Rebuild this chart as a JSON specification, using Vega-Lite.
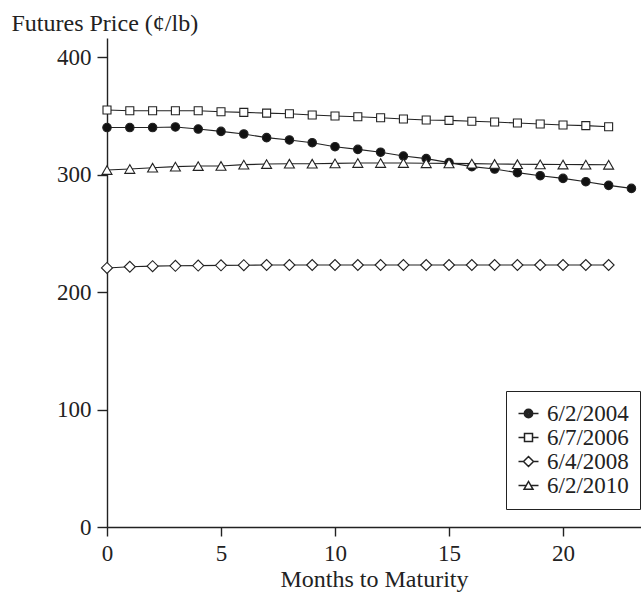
{
  "$schema": "https://vega.github.io/schema/vega-lite/v6.json",
  "autosize": "none",
  "width": 534,
  "height": 489,
  "padding": {"left": 107, "top": 38, "right": 0, "bottom": 66},
  "background": "white",
  "config": {
    "view": {"stroke": null},
    "font": "Liberation Serif",
    "axis": {
      "grid": false,
      "domainColor": "#222",
      "domainWidth": 1.4,
      "tickColor": "#222",
      "tickWidth": 1.4,
      "labelFont": "Liberation Serif",
      "labelFontSize": 23,
      "labelColor": "#222",
      "titleFont": "Liberation Serif",
      "titleFontSize": 24,
      "titleFontWeight": "normal",
      "titleColor": "#222"
    },
    "legend": {
      "labelFont": "Liberation Serif",
      "labelFontSize": 23,
      "labelColor": "#222"
    }
  },
  "data": {
    "values": [
      {"series": "6/2/2004", "month": 0, "price": 340},
      {"series": "6/2/2004", "month": 1, "price": 340},
      {"series": "6/2/2004", "month": 2, "price": 340},
      {"series": "6/2/2004", "month": 3, "price": 340.5},
      {"series": "6/2/2004", "month": 4, "price": 338.7},
      {"series": "6/2/2004", "month": 5, "price": 336.7},
      {"series": "6/2/2004", "month": 6, "price": 334.5},
      {"series": "6/2/2004", "month": 7, "price": 331.4},
      {"series": "6/2/2004", "month": 8, "price": 329.4},
      {"series": "6/2/2004", "month": 9, "price": 327.1},
      {"series": "6/2/2004", "month": 10, "price": 323.7},
      {"series": "6/2/2004", "month": 11, "price": 321.4},
      {"series": "6/2/2004", "month": 12, "price": 319},
      {"series": "6/2/2004", "month": 13, "price": 315.7},
      {"series": "6/2/2004", "month": 14, "price": 313.5},
      {"series": "6/2/2004", "month": 15, "price": 310.1},
      {"series": "6/2/2004", "month": 16, "price": 306.7},
      {"series": "6/2/2004", "month": 17, "price": 304.7},
      {"series": "6/2/2004", "month": 18, "price": 301.6},
      {"series": "6/2/2004", "month": 19, "price": 299},
      {"series": "6/2/2004", "month": 20, "price": 296.7},
      {"series": "6/2/2004", "month": 21, "price": 293.9},
      {"series": "6/2/2004", "month": 22, "price": 290.8},
      {"series": "6/2/2004", "month": 23, "price": 288.2},
      {"series": "6/7/2006", "month": 0, "price": 354.9},
      {"series": "6/7/2006", "month": 1, "price": 354.3},
      {"series": "6/7/2006", "month": 2, "price": 354.3},
      {"series": "6/7/2006", "month": 3, "price": 354.3},
      {"series": "6/7/2006", "month": 4, "price": 354.3},
      {"series": "6/7/2006", "month": 5, "price": 353.4},
      {"series": "6/7/2006", "month": 6, "price": 352.9},
      {"series": "6/7/2006", "month": 7, "price": 352.3},
      {"series": "6/7/2006", "month": 8, "price": 351.7},
      {"series": "6/7/2006", "month": 9, "price": 350.6},
      {"series": "6/7/2006", "month": 10, "price": 349.8},
      {"series": "6/7/2006", "month": 11, "price": 349.2},
      {"series": "6/7/2006", "month": 12, "price": 348.3},
      {"series": "6/7/2006", "month": 13, "price": 347.2},
      {"series": "6/7/2006", "month": 14, "price": 346.4},
      {"series": "6/7/2006", "month": 15, "price": 346.1},
      {"series": "6/7/2006", "month": 16, "price": 345.3},
      {"series": "6/7/2006", "month": 17, "price": 344.7},
      {"series": "6/7/2006", "month": 18, "price": 343.8},
      {"series": "6/7/2006", "month": 19, "price": 343},
      {"series": "6/7/2006", "month": 20, "price": 342.1},
      {"series": "6/7/2006", "month": 21, "price": 341.6},
      {"series": "6/7/2006", "month": 22, "price": 340.7},
      {"series": "6/4/2008", "month": 0, "price": 220.5},
      {"series": "6/4/2008", "month": 1, "price": 221.5},
      {"series": "6/4/2008", "month": 2, "price": 222},
      {"series": "6/4/2008", "month": 3, "price": 222.3},
      {"series": "6/4/2008", "month": 4, "price": 222.5},
      {"series": "6/4/2008", "month": 5, "price": 222.7},
      {"series": "6/4/2008", "month": 6, "price": 222.8},
      {"series": "6/4/2008", "month": 7, "price": 223},
      {"series": "6/4/2008", "month": 8, "price": 223},
      {"series": "6/4/2008", "month": 9, "price": 223},
      {"series": "6/4/2008", "month": 10, "price": 223},
      {"series": "6/4/2008", "month": 11, "price": 223},
      {"series": "6/4/2008", "month": 12, "price": 223},
      {"series": "6/4/2008", "month": 13, "price": 223},
      {"series": "6/4/2008", "month": 14, "price": 223},
      {"series": "6/4/2008", "month": 15, "price": 223},
      {"series": "6/4/2008", "month": 16, "price": 223},
      {"series": "6/4/2008", "month": 17, "price": 223},
      {"series": "6/4/2008", "month": 18, "price": 223},
      {"series": "6/4/2008", "month": 19, "price": 223},
      {"series": "6/4/2008", "month": 20, "price": 223},
      {"series": "6/4/2008", "month": 21, "price": 223},
      {"series": "6/4/2008", "month": 22, "price": 223},
      {"series": "6/2/2010", "month": 0, "price": 303.8},
      {"series": "6/2/2010", "month": 1, "price": 304.7},
      {"series": "6/2/2010", "month": 2, "price": 305.8},
      {"series": "6/2/2010", "month": 3, "price": 306.7},
      {"series": "6/2/2010", "month": 4, "price": 307.2},
      {"series": "6/2/2010", "month": 5, "price": 307.3},
      {"series": "6/2/2010", "month": 6, "price": 308.4},
      {"series": "6/2/2010", "month": 7, "price": 308.9},
      {"series": "6/2/2010", "month": 8, "price": 309.2},
      {"series": "6/2/2010", "month": 9, "price": 309.2},
      {"series": "6/2/2010", "month": 10, "price": 309.5},
      {"series": "6/2/2010", "month": 11, "price": 309.8},
      {"series": "6/2/2010", "month": 12, "price": 309.8},
      {"series": "6/2/2010", "month": 13, "price": 309.8},
      {"series": "6/2/2010", "month": 14, "price": 309.6},
      {"series": "6/2/2010", "month": 15, "price": 309.5},
      {"series": "6/2/2010", "month": 16, "price": 309.3},
      {"series": "6/2/2010", "month": 17, "price": 309},
      {"series": "6/2/2010", "month": 18, "price": 308.8},
      {"series": "6/2/2010", "month": 19, "price": 308.6},
      {"series": "6/2/2010", "month": 20, "price": 308.5},
      {"series": "6/2/2010", "month": 21, "price": 308.4},
      {"series": "6/2/2010", "month": 22, "price": 308.3}
    ]
  },
  "encoding": {
    "x": {
      "field": "month",
      "type": "quantitative",
      "scale": {"domain": [0, 23.42], "nice": false, "zero": false},
      "axis": {
        "title": "Months to Maturity",
        "values": [0, 5, 10, 15, 20],
        "tickSize": 9,
        "labelPadding": 6,
        "titlePadding": 2,
        "labelFlush": false
      }
    },
    "y": {
      "field": "price",
      "type": "quantitative",
      "scale": {"domain": [0, 416.2], "nice": false},
      "axis": {
        "title": "Futures Price (¢/lb)",
        "values": [0, 100, 200, 300, 400],
        "tickSize": 10,
        "labelPadding": 6,
        "titleAngle": 0,
        "titleAlign": "left",
        "titleBaseline": "middle",
        "titleX": -96,
        "titleY": -15
      }
    }
  },
  "layer": [
    {
      "mark": {"type": "line", "color": "#222", "strokeWidth": 1.1},
      "encoding": {"detail": {"field": "series"}}
    },
    {
      "mark": {"type": "point", "filled": true, "stroke": "#222", "strokeWidth": 1.1, "opacity": 0, "size": 400},
      "encoding": {
        "shape": {
          "field": "series",
          "scale": {
            "domain": ["6/2/2004", "6/7/2006", "6/4/2008", "6/2/2010"],
            "range": [
              "M-1,0H-0.42M0.42,0H1M-0.42,0A0.42,0.42 0 1 1 0.42,0A0.42,0.42 0 1 1 -0.42,0ZM-0.36,0A0.36,0.36 0 1 1 0.36,0A0.36,0.36 0 1 1 -0.36,0ZM-0.3,0A0.3,0.3 0 1 1 0.3,0A0.3,0.3 0 1 1 -0.3,0ZM-0.24,0A0.24,0.24 0 1 1 0.24,0A0.24,0.24 0 1 1 -0.24,0ZM-0.18,0A0.18,0.18 0 1 1 0.18,0A0.18,0.18 0 1 1 -0.18,0ZM-0.12,0A0.12,0.12 0 1 1 0.12,0A0.12,0.12 0 1 1 -0.12,0ZM-0.06,0A0.06,0.06 0 1 1 0.06,0A0.06,0.06 0 1 1 -0.06,0Z",
              "M-1,0H-0.4M0.4,0H1M-0.4,-0.4H0.4V0.4H-0.4Z",
              "M-1,0H-0.5M0.5,0H1M-0.5,0L0,-0.5L0.5,0L0,0.5Z",
              "M-1,0H-0.23M0.23,0H1M-0.45,0.38L0,-0.4L0.45,0.38Z"
            ]
          },
          "legend": {
            "title": null,
            "orient": "none",
            "legendX": 399,
            "legendY": 353,
            "symbolSize": 400,
            "strokeColor": "#222",
            "fillColor": "white",
            "padding": 11,
            "labelOffset": 7,
            "rowPadding": 0,
            "encode": {
              "symbols": {
                "stroke": {"value": "#222"},
                "strokeWidth": {"value": 1.1},
                "size": {"value": 400},
                "opacity": {"value": 1}
              }
            }
          }
        },
        "fill": {
          "field": "series",
          "scale": {"domain": ["6/2/2004", "6/7/2006", "6/4/2008", "6/2/2010"], "range": ["#111", "white", "white", "white"]}
        }
      }
    },
    {
      "transform": [{"filter": "datum.series === '6/2/2004'"}],
      "mark": {"type": "point", "shape": "circle", "filled": true, "fill": "#111", "stroke": "#222", "strokeWidth": 1.1, "opacity": 1, "size": 72}
    },
    {
      "transform": [{"filter": "datum.series === '6/7/2006'"}],
      "mark": {"type": "point", "shape": "square", "filled": true, "fill": "white", "stroke": "#222", "strokeWidth": 1.1, "opacity": 1, "size": 64}
    },
    {
      "transform": [{"filter": "datum.series === '6/4/2008'"}],
      "mark": {"type": "point", "shape": "diamond", "filled": true, "fill": "white", "stroke": "#222", "strokeWidth": 1.1, "opacity": 1, "size": 121}
    },
    {
      "transform": [{"filter": "datum.series === '6/2/2010'"}],
      "mark": {"type": "point", "shape": "triangle-up", "filled": true, "fill": "white", "stroke": "#222", "strokeWidth": 1.1, "opacity": 1, "size": 100}
    }
  ]
}
